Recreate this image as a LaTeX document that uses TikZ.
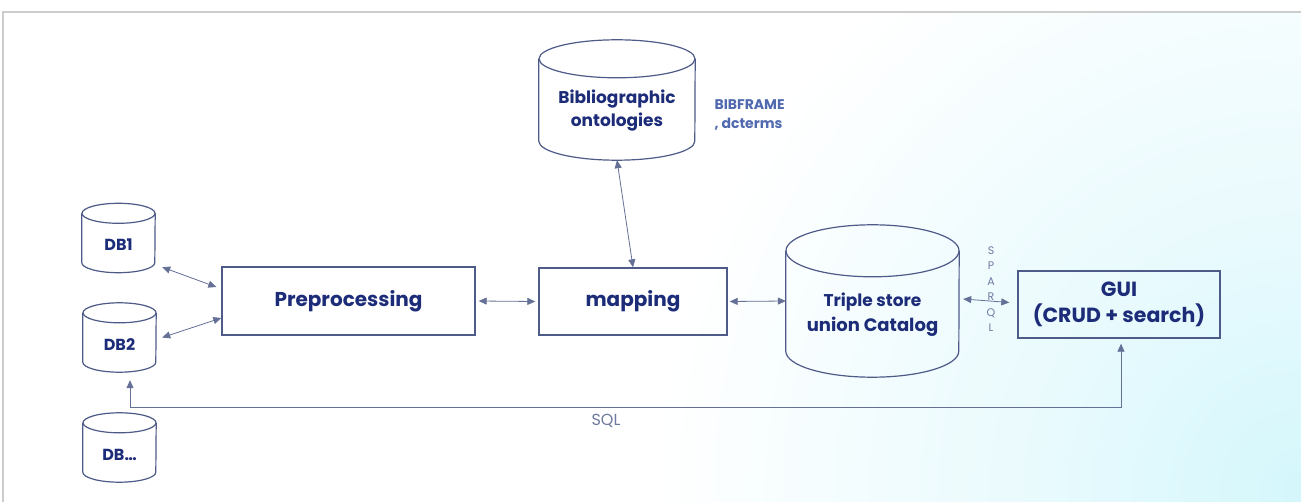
\documentclass[tikz,border=0pt]{standalone}
\usepackage{fontspec}
\setmainfont{Poppins}
\usetikzlibrary{arrows.meta,calc,shadings}
\definecolor{navy}{RGB}{28,44,120}
\definecolor{edge}{RGB}{78,90,135}
\definecolor{wire}{RGB}{100,112,150}
\definecolor{lbl}{RGB}{110,122,160}
\definecolor{bibc}{RGB}{80,105,175}
\definecolor{frame}{RGB}{205,205,205}
\definecolor{cyanbg}{RGB}{212,247,252}
\definecolor{cyanmid}{RGB}{232,250,253}
\pgfdeclareradialshading{bgshade}{\pgfpoint{0bp}{0bp}}{color(0bp)=(cyanbg); color(7bp)=(cyanmid); color(18bp)=(white); color(50bp)=(white)}
\newcommand\drawcyl[3]{%
  \draw[cylline] ($(#1.north west)+(0,-#3)$) -- ($(#1.south west)+(0,#3)$)
    arc[start angle=180,end angle=360,x radius=#2,y radius=#3]
    -- ($(#1.north east)+(0,-#3)$);
  \draw[cylline] ($(#1.north)+(0,-#3)$) ellipse[x radius=#2,y radius=#3];
}
\tikzset{
  box/.style={draw=edge,line width=1.4pt,minimum width=#1,inner sep=0pt,font=\bfseries\color{navy}},
  cylbody/.style={inner sep=0pt},
  cyltext/.style={inner sep=0pt,align=center,text=navy},
  cylline/.style={draw=edge,line width=1.2pt},
  arr/.style={draw=wire,line width=0.8pt,{Triangle[width=7pt,length=8pt]}-{Triangle[width=7pt,length=8pt]}},
}
\begin{document}
\begin{tikzpicture}[x=1pt,y=1pt]
\useasboundingbox (0,0) rectangle (1301,-502);
\begin{scope}
\clip (3,-12) rectangle (1301,-502);
\fill[white] (3,-12) rectangle (1301,-502);
\shade[shading=bgshade] (1301-900,-490-900) rectangle (1301+900,-490+900);
\end{scope}
\draw[frame,line width=1.5pt] (3,-502) -- (3,-12) -- (1301,-12);

% cylinders
\node[cylbody,minimum width=73,minimum height=69] (db1) at (118.5,-238) {};
\drawcyl{db1}{36.5}{10}
\node[cyltext,font=\fontsize{16}{18}\bfseries\selectfont] (db1t) at ($(db1.center)+(0,-7)$) {DB1};
\node[cylbody,minimum width=73,minimum height=69] (db2) at (119.5,-337.5) {};
\drawcyl{db2}{36.5}{10}
\node[cyltext,font=\fontsize{16}{18}\bfseries\selectfont] (db2t) at ($(db2.center)+(0,-7.5)$) {DB2};
\node[cylbody,minimum width=73,minimum height=69] (dbx) at (119.5,-447.5) {};
\drawcyl{dbx}{36.5}{10}
\node[cyltext,font=\fontsize{16}{18}\bfseries\selectfont] (dbxt) at ($(dbx.center)+(0,-7.5)$) {DB\dots};
\node[cylbody,minimum width=156,minimum height=120] (bib) at (617,-100) {};
\drawcyl{bib}{78}{19}
\node[cyltext,font=\fontsize{17}{23}\bfseries\selectfont] (bibt) at ($(bib.center)+(0,-10.5)$) {Bibliographic\\ontologies};
\node[cylbody,minimum width=173,minimum height=152] (tri) at (872.5,-301) {};
\drawcyl{tri}{86.5}{26}
\node[cyltext,font=\fontsize{18}{25}\bfseries\selectfont] (trit) at ($(tri.center)+(0,-13.5)$) {{\fontsize{17}{25}\selectfont Triple store}\\union Catalog};

% boxes
\node[box=253,minimum height=68,font=\fontsize{20}{24}\bfseries\selectfont\color{navy}] (pre) at (348.5,-301) {Preprocessing};
\node[box=188,minimum height=67,font=\fontsize{20}{24}\bfseries\selectfont\color{navy}] (map) at (633,-301.5) {mapping};
\node[box=202,minimum height=67,align=center,font=\fontsize{20.5}{26}\bfseries\selectfont\color{navy}] (gui) at (1119,-304.5) {GUI\\(CRUD + search)};

% labels
\node[align=left,anchor=west,font=\fontsize{14}{19}\bfseries\selectfont\color{bibc}] (biblbl) at (711,-114.5) {BIBFRAME\\, dcterms};
\node[font=\fontsize{16}{18}\selectfont\color{lbl}] (sql) at (606,-421) {SQL};
\node[align=center,font=\fontsize{11}{15.5}\selectfont\color{lbl}] (sparql) at (991,-289) {S\\P\\A\\R\\Q\\L};

% connectors
\draw[arr] ([shift={(7,5.5)}]db1.south east) -- ([shift={(-5,14)}]pre.west);
\draw[arr] ([shift={(6,0)}]db2.east) -- ([shift={(0,-17)}]pre.west);
\draw[arr] ([xshift=3]pre.east) -- ([xshift=-3]map.west);
\draw[arr] ([xshift=2]map.east) -- (tri.west);
\draw[arr] (bib.south) -- (map.north);
\draw[arr] ([shift={(4,2)}]tri.east) -- ([shift={(-8,2)}]gui.west);
\draw[arr] ([shift={(10.5,-8)}]db2.south) -- ++(0,-27) -| ([shift={(2,-5)}]gui.south);
\end{tikzpicture}
\end{document}
